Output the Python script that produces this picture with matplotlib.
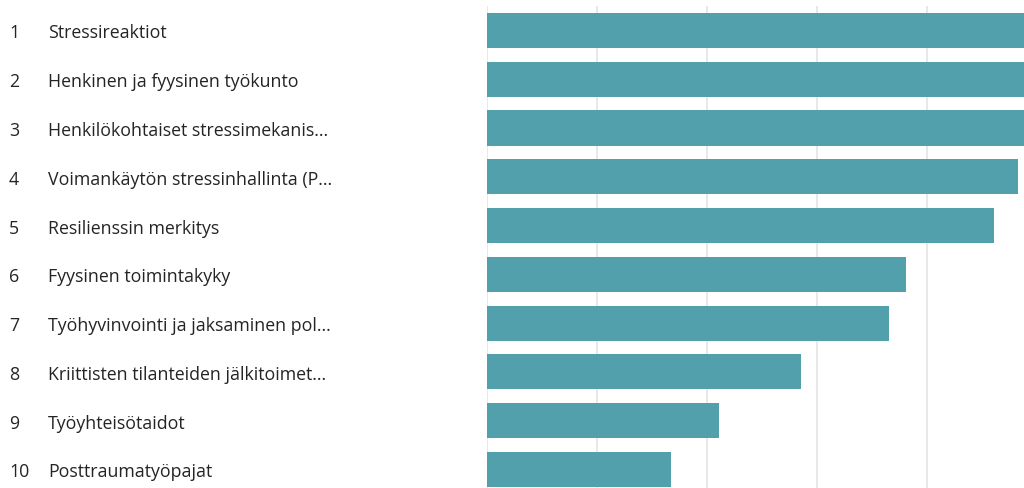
import matplotlib.pyplot as plt
from matplotlib.transforms import blended_transform_factory

ranks = ['1', '2', '3', '4', '5', '6', '7', '8', '9', '10']
labels = [
    'Stressireaktiot',
    'Henkinen ja fyysinen työkunto',
    'Henkilökohtaiset stressimekanis...',
    'Voimankäytön stressinhallinta (P...',
    'Resilienssin merkitys',
    'Fyysinen toimintakyky',
    'Työhyvinvointi ja jaksaminen pol...',
    'Kriittisten tilanteiden jälkitoimet...',
    'Työyhteisötaidot',
    'Posttraumatyöpajat',
]
values = [5.6, 5.3, 5.0, 4.83, 4.61, 3.81, 3.65, 2.85, 2.11, 1.67]

bar_color = '#52a0ab'
text_color = '#252423'

plt.rcParams['font.family'] = ['Open Sans', 'DejaVu Sans']

fig = plt.figure(figsize=(10.24, 4.88), dpi=100)
ax = fig.add_axes([487 / 1024, 0, 537 / 1024, 1 - 6 / 488])

ypos = list(range(len(values)))
ax.barh(ypos, values, height=0.72, color=bar_color, zorder=2)

ax.set_xlim(0, 537 / 110)
ax.set_ylim(9.38, -0.5)
ax.set_xticks([0, 1, 2, 3, 4])
ax.set_yticks([])
ax.tick_params(axis='x', length=0, labelbottom=False)
ax.grid(axis='x', color='#e6e6e6', linewidth=1.3, zorder=0)
for s in ax.spines.values():
    s.set_visible(False)

# rank numbers and category names sit left of the bars
trans = blended_transform_factory(fig.transFigure, ax.transData)
for y, r, lab in zip(ypos, ranks, labels):
    ax.text(9 / 1024, y + 0.02, r, transform=trans, ha='left', va='center_baseline',
            fontsize=12.8, color=text_color, clip_on=False)
    ax.text(48 / 1024, y + 0.02, lab, transform=trans, ha='left', va='center_baseline',
            fontsize=12.8, color=text_color, clip_on=False)

fig.savefig('out.png', dpi=100)
